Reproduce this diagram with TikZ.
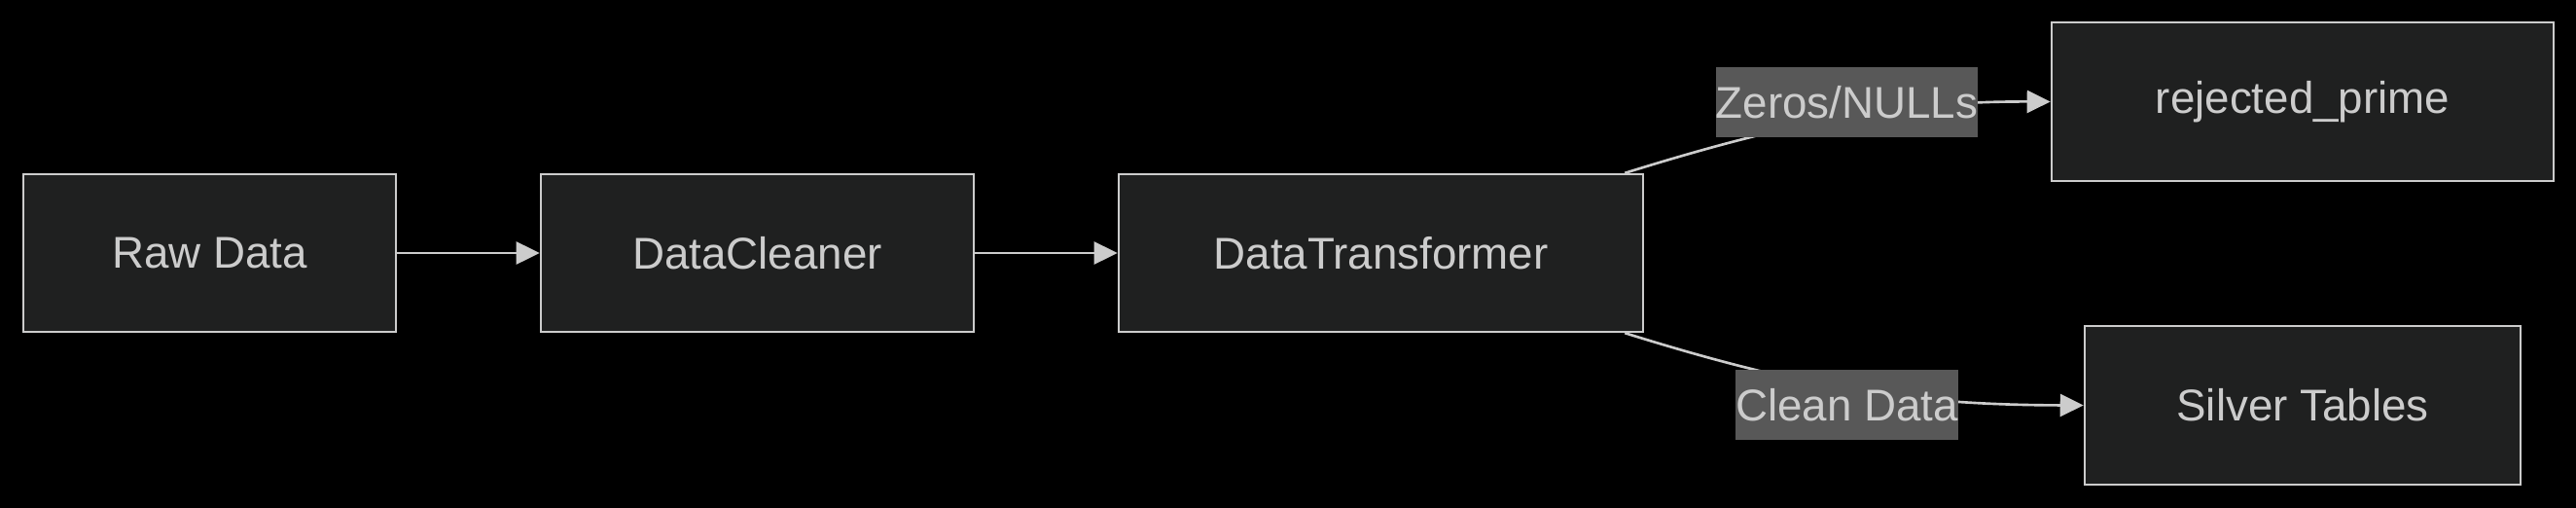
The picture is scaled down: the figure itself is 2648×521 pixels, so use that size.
\documentclass[tikz,border=0pt]{standalone}
\usepackage{fontspec}
\setmainfont{Liberation Sans}
\usepackage{tikz}
\usetikzlibrary{arrows.meta,shapes}
\definecolor{boxfill}{HTML}{1F2020}
\definecolor{boxline}{HTML}{CCCCCC}
\definecolor{txt}{HTML}{CCCCCC}
\definecolor{lblfill}{HTML}{585858}
\tikzstyle{box}=[draw=boxline,fill=boxfill,text=txt,line width=0.65pt,minimum height=1.62cm,inner sep=0pt,font=\fontsize{13}{15}\selectfont]
\tikzstyle{lbl}=[fill=lblfill,text=txt,inner xsep=0pt,inner ysep=0pt,minimum height=0.72cm,font=\fontsize{13}{15}\selectfont]
\tikzstyle{edge} = [draw=txt,line width=0.75pt,-{Triangle[length=0.24cm,width=0.23cm]}]

\begin{document}
\begin{tikzpicture}[x=0.01cm,y=-0.01cm]
      \useasboundingbox (0,0) rectangle (2648,521);
      \fill[black] (-10,-10) rectangle (2658,531);
      \node[box,minimum width=3.83cm] (raw) at (215.5,260) {Raw Data};
      \node[box,minimum width=4.45cm] (cleaner) at (778.5,260) {DataCleaner};
      \node[box,minimum width=5.39cm] (transformer) at (1419.5,260) {DataTransformer};
      \node[box,minimum width=5.16cm,minimum height=1.63cm] (rejected) at (2367,104.5) {rejected\_prime};
      \node[box,minimum width=4.48cm,minimum height=1.63cm] (silver) at (2367,416.5) {Silver Tables};
      \draw[edge] (raw) to (cleaner);
      \draw[edge] (cleaner) to (transformer);
      \draw[edge] ([xshift=-0.2cm]transformer.north east) .. controls (1840,125) and (1950,104) .. (rejected.west);
      \draw[edge] ([xshift=-0.2cm]transformer.south east) .. controls (1840,395) and (1950,416) .. (silver.west);
      \node[lbl] (zeros) at (1898.5,105) {Zeros/NULLs};
      \node[lbl] (cleandata) at (1898.5,416) {Clean Data};
      \end{tikzpicture}
\end{document}
